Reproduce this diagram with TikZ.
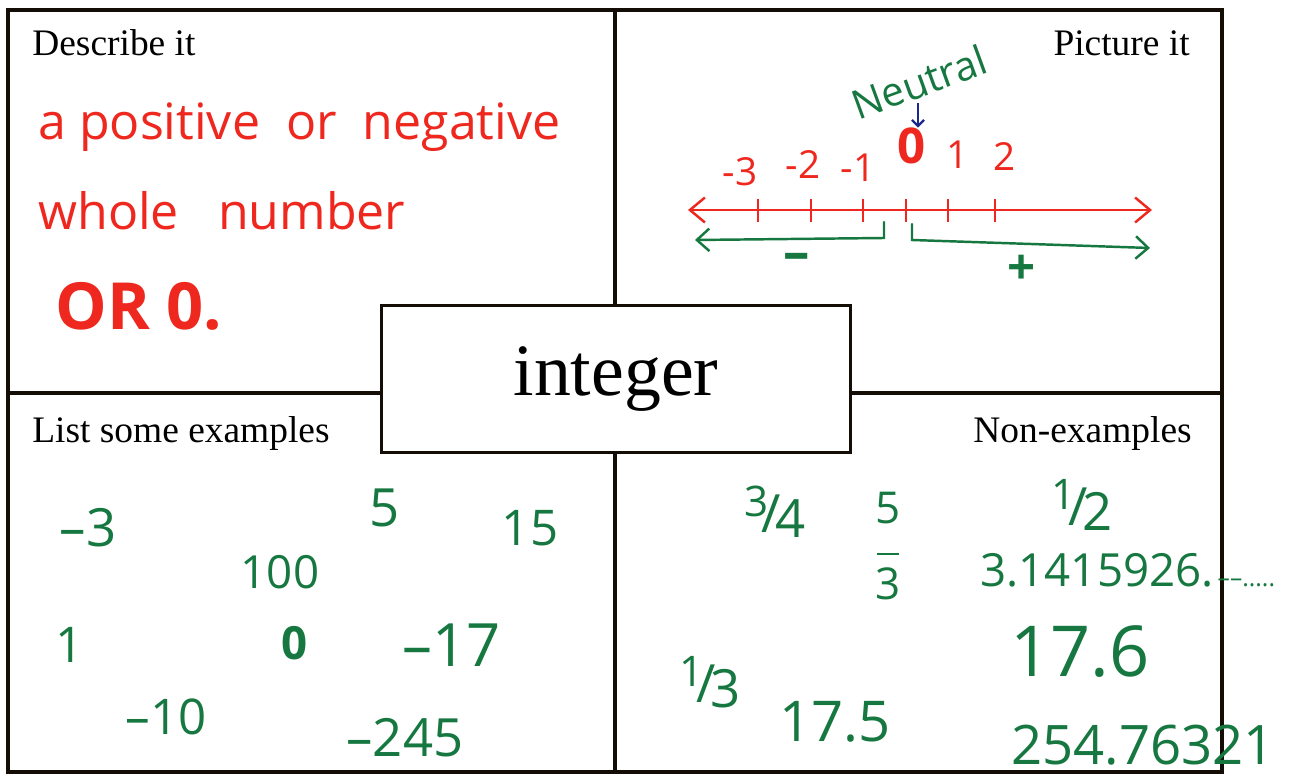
\documentclass[tikz,border=0pt]{standalone}
\usepackage{graphicx}
\usepackage{fontspec}
\setmainfont{Liberation Serif}
\newfontfamily\handfont{Open Sans}
\usetikzlibrary{arrows.meta,positioning}
\definecolor{inkred}{RGB}{238,40,30}
\definecolor{inkgreen}{RGB}{22,120,64}
\definecolor{inkblue}{RGB}{28,40,140}
\newcommand{\slfrac}[2]{\raisebox{0.3em}{\scalebox{0.8}{#1}}\kern-0.12em/\kern-0.1em\raisebox{-0.1em}{#2}}
\tikzset{
  frame/.style     = {line width=2.2pt, black!90!brown},
  termbox/.style   = {draw, line width=2.2pt, black!90!brown, fill=white, text=black,
                      minimum width=9.38cm, minimum height=2.94cm,
                      font=\fontsize{42}{48}\selectfont},
  heading/.style   = {inner sep=0pt, font=\fontsize{21.3}{25}\selectfont},
  redhand/.style   = {inner sep=0pt, text=inkred, font=\handfont\fontsize{28.5}{33}\selectfont},
  greenhand/.style = {inner sep=0pt, text=inkgreen},
  numline/.style   = {line width=1.4pt, inkred, line cap=round},
  notch/.style     = {line width=1.4pt, inkred},
  sideline/.style  = {line width=1.4pt, inkgreen, line cap=round},
  pointer/.style   = {-{Straight Barb[length=1.2mm]}, line width=1.3pt, inkblue},
}

\begin{document}
\begin{tikzpicture}[x=0.02cm,y=-0.02cm]
  \useasboundingbox (0,0) rectangle (1304,776);
  \fill[white] (0,0) rectangle (1304,776);
  % card and its four quarters
  \draw[frame] (8,10) rectangle (1222,772);
  \draw[frame] (615,10) -- (615,772);
  \draw[frame] (8,393) -- (1222,393);
  \node[termbox] (term) at (616,379) {integer};

  \node[heading, anchor=base west] (describe) at (32,56) {Describe it};
  \node[heading, anchor=base east] (picture) at (1190,56) {Picture it};
  \node[heading, anchor=base west] (examples) at (32,442) {List some examples};
  \node[heading, anchor=base east] (nonexamples) at (1192,442) {Non-examples};

  % describe it
  \node[redhand, anchor=base west] (def1) at (38,140) {a positive~~or~~negative};
  \node[redhand, anchor=base west] (def2) at (38,230) {whole~~~number};
  \node[redhand, anchor=base west, font=\handfont\bfseries\fontsize{37}{40}\selectfont]
      (def3) at (55,330) {OR 0.};

  % picture it
  \coordinate (lineL) at (688,210);
  \coordinate (lineR) at (1152,210);
  \draw[numline, {Straight Barb[length=3mm,width=5mm]}-{Straight Barb[length=3mm,width=5mm]}]
      (lineL) -- (lineR);
  \foreach \x in {758,811,863,906,948,995}
    \draw[notch] (\x,199) -- (\x,222);
  \foreach \t/\x/\y in {-3/740/172,-2/803/165,-1/858/168,1/958/155,2/1005/157}
    \node[redhand, font=\handfont\fontsize{22}{26}\selectfont] (mark\x) at (\x,\y) {\t};
  \node[redhand, font=\handfont\bfseries\fontsize{28}{32}\selectfont] (zero) at (912,146) {0};
  \node[greenhand, rotate=20, font=\handfont\fontsize{23}{26}\selectfont] (neutral) at (919,82) {Neutral};
  \coordinate (nu) at (918,103);
  \draw[pointer] (nu) -- (nu |- zero.north);

  \coordinate (negtop) at (884,222);
  \coordinate (negend) at (695,240);
  \coordinate (postop) at (912,224);
  \coordinate (posend) at (1150,248);
  \draw[sideline, -{Straight Barb[length=2.5mm,width=4.5mm]}] (negtop) -- ++(0,16) -- (negend);
  \draw[sideline, -{Straight Barb[length=2.5mm,width=4.5mm]}] (postop) -- ++(0,16) -- (posend);
  \node[greenhand, font=\handfont\bfseries\fontsize{30}{34}\selectfont] (minus) at (797,262) {–};
  \node[greenhand, font=\handfont\bfseries\fontsize{28}{32}\selectfont] (plus) at (1022,270) {+};

  % list some examples
  \foreach \t/\x/\y/\s in {–3/88/528/30, 5/385/508/30, 15/530/528/28, 100/280/572/26,
                           1/70/645/28, –17/452/645/34, –10/166/717/28, –245/405/738/30}
    \node[greenhand, font=\handfont\fontsize{\s}{\s}\selectfont] (ex\x) at (\x,\y) {\t};
  \node[greenhand, font=\handfont\bfseries\fontsize{26}{30}\selectfont] (exzero) at (295,643) {0};

  % non-examples
  \node[greenhand, font=\handfont\fontsize{30}{34}\selectfont] (threequarters) at (775,512) {\slfrac{3}{4}};
  \node[greenhand, font=\handfont\fontsize{25}{27}\selectfont] (fivethirds) at (888,552)
      {\begin{tabular}{@{}c@{}}5\\[-9pt]\rule{0.5em}{1.3pt}\\[-2pt]3\end{tabular}};
  \node[greenhand, font=\handfont\fontsize{30}{34}\selectfont] (half) at (1082,505) {\slfrac{1}{2}};
  \node[greenhand, anchor=base west, font=\handfont\fontsize{26}{30}\selectfont] (pi) at (980,586)
      {3.1415926.{\fontsize{14}{14}\selectfont\,––.....}};
  \node[greenhand, font=\handfont\fontsize{40}{44}\selectfont] (seventeensix) at (1080,652) {17.6};
  \node[greenhand, font=\handfont\fontsize{30}{34}\selectfont] (third) at (710,682) {\slfrac{1}{3}};
  \node[greenhand, font=\handfont\fontsize{32}{36}\selectfont] (seventeenfive) at (835,722) {17.5};
  \node[greenhand, font=\handfont\fontsize{31}{34}\selectfont] (longdec) at (1143,745) {254.76321};
\end{tikzpicture}
\end{document}
